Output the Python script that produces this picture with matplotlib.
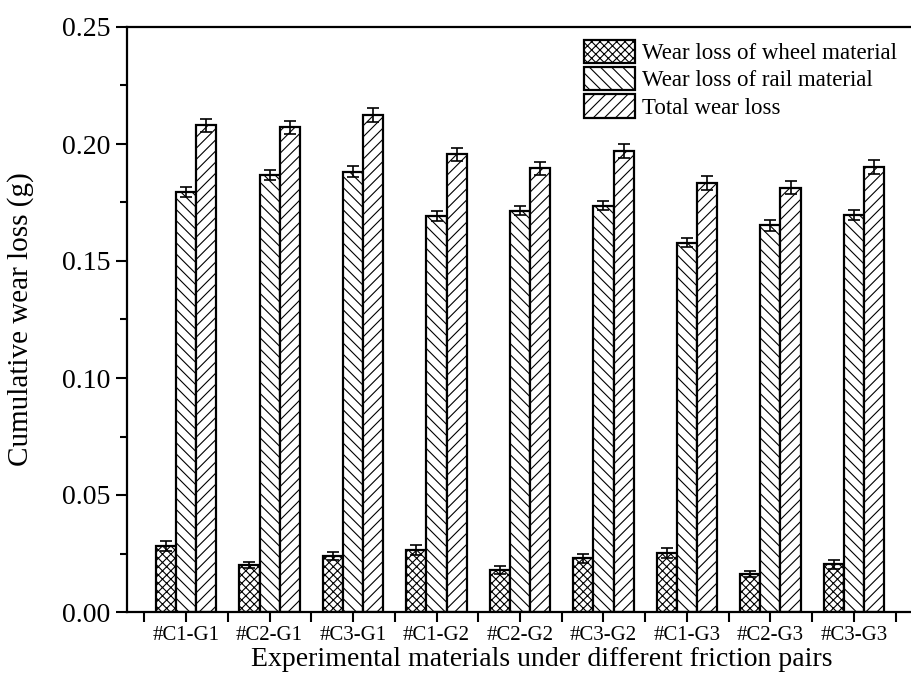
import matplotlib
matplotlib.use("Agg")
import matplotlib.pyplot as plt
import numpy as np

plt.rcParams['font.family'] = ['Liberation Serif', 'DejaVu Serif']
plt.rcParams['hatch.linewidth'] = 0.8

# ---------------- data ----------------
categories = ['#C1-G1', '#C2-G1', '#C3-G1', '#C1-G2', '#C2-G2', '#C3-G2',
              '#C1-G3', '#C2-G3', '#C3-G3']

wheel = [0.0282, 0.0201, 0.0241, 0.0264, 0.0179, 0.0229, 0.0251, 0.0162, 0.0204]
rail = [0.1796, 0.1868, 0.1882, 0.1692, 0.1715, 0.1737, 0.1578, 0.1652, 0.1698]
total = [0.2080, 0.2071, 0.2124, 0.1957, 0.1896, 0.1970, 0.1835, 0.1813, 0.1903]

wheel_err = [0.0020, 0.0014, 0.0017, 0.0021, 0.0017, 0.0020, 0.0021, 0.0014, 0.0019]
rail_err = [0.0022, 0.0022, 0.0022, 0.0020, 0.0020, 0.0020, 0.0020, 0.0022, 0.0022]
total_err = [0.0028, 0.0028, 0.0030, 0.0028, 0.0028, 0.0030, 0.0030, 0.0028, 0.0030]

labels = ['Wear loss of wheel material', 'Wear loss of rail material', 'Total wear loss']
hatches = ['xxxx', '\\\\\\', '///']

# ---------------- plot ----------------
fig = plt.figure(figsize=(9.11, 6.82), dpi=100)
ax = fig.add_axes([127 / 911, 70 / 682, 786 / 911, 585 / 682])

x = np.arange(len(categories))
w = 0.24
err_kw = dict(ecolor='black', elinewidth=1.2, capsize=4, capthick=1.2)

for k, (vals, errs) in enumerate([(wheel, wheel_err), (rail, rail_err), (total, total_err)]):
    ax.bar(x + (k - 1) * w, vals, w, yerr=errs, facecolor='white', edgecolor='black',
           linewidth=1.6, hatch=hatches[k], label=labels[k], error_kw=err_kw, zorder=2)

ax.set_xlim(-0.707, 8.707)
ax.set_ylim(0, 0.25)
ax.set_yticks(np.arange(0, 0.251, 0.05))
ax.set_yticks(np.arange(0.025, 0.25, 0.05), minor=True)
ax.set_yticklabels([f'{v:.2f}' for v in np.arange(0, 0.251, 0.05)], fontsize=20)
ax.set_xticks(x)
ax.set_xticks(np.arange(-0.5, 9.0, 1.0), minor=True)
ax.set_xticklabels(categories, fontsize=15)

ax.tick_params(axis='both', which='both', direction='out', width=1.5, color='black')
ax.tick_params(axis='y', which='major', length=8, pad=4)
ax.tick_params(axis='y', which='minor', length=5)
ax.tick_params(axis='x', which='both', length=7, pad=3)

for side in ['left', 'bottom', 'top']:
    ax.spines[side].set_linewidth(1.6)
ax.spines['right'].set_visible(False)

ax.set_ylabel('Cumulative wear loss (g)', fontsize=21)
ax.yaxis.set_label_coords(-0.118, 0.5)
ax.set_xlabel('Experimental materials under different friction pairs', fontsize=20)
ax.xaxis.set_label_coords(0.528, -0.06)

ax.legend(loc='upper left', bbox_to_anchor=(452 / 786, 1 - 8 / 585), frameon=False,
          fontsize=16.5, handlelength=2.25, handleheight=1.2, handletextpad=0.3,
          labelspacing=0.12, borderpad=0.2, borderaxespad=0)

fig.savefig('out.png', dpi=100)
